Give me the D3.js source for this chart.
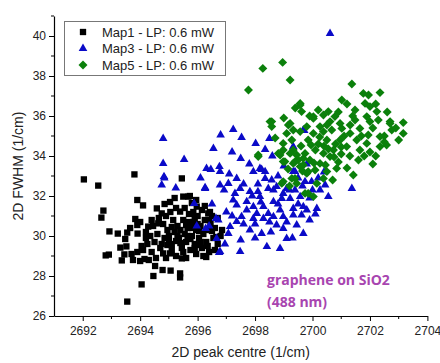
<!DOCTYPE html>
<html>
<head>
<meta charset="utf-8">
<script src="https://cdn.jsdelivr.net/npm/d3@7"></script>
<style>
  html, body { margin: 0; padding: 0; background: #fff; }
  svg { display: block; font-family: "Liberation Sans", Arial, sans-serif; }
</style>
</head>
<body>
<svg id="chart" width="440" height="363"></svg>
<script>
// series values: [peak centre, FWHM]
const map1 = [
  [2692.04,32.83],[2692.54,32.52],[2693.80,33.08],[2692.72,31.27],[2692.65,30.92],[2693.90,31.80],
  [2694.10,31.53],[2693.83,30.85],[2693.90,30.55],[2692.93,30.23],[2693.22,30.12],[2693.55,30.17],
  [2693.91,30.12],[2693.48,29.85],[2693.31,29.42],[2693.52,29.48],[2692.80,29.03],[2692.91,29.07],
  [2693.45,29.08],[2693.36,28.78],[2693.90,29.20],[2693.75,28.80],[2694.05,27.58],[2693.55,26.72],
  [2694.52,28.50],[2694.78,28.30],[2694.46,28.00],[2695.06,28.27],[2695.39,28.13],[2695.39,27.93],
  [2695.04,31.70],[2695.50,31.97],[2695.73,32.00],[2694.58,31.38],[2694.75,31.13],[2694.28,30.47],
  [2694.63,30.63],[2695.39,31.22],[2695.97,31.47],[2696.37,31.13],[2695.04,29.13],[2694.80,29.13],
  [2695.45,28.88],[2695.45,32.88],[2695.68,31.97],[2695.80,31.65],[2696.43,31.20],
  [2694.00,28.75],[2694.15,28.85],[2694.30,28.80],[2694.10,29.30],[2694.25,29.60],[2694.40,29.20],
  [2694.50,29.70],[2694.35,30.00],[2694.60,30.10],[2694.70,29.40],[2694.85,29.90],[2694.95,30.30],
  [2694.80,30.60],[2695.00,30.00],[2695.10,29.60],[2695.20,30.20],[2695.15,30.80],[2695.30,30.50],
  [2695.35,29.90],[2695.45,29.40],[2695.50,30.80],[2695.55,30.10],[2695.60,29.70],[2695.65,30.40],
  [2695.70,31.10],[2695.75,29.30],[2695.80,30.00],[2695.85,30.70],[2695.90,29.60],[2695.95,30.30],
  [2696.00,31.00],[2696.05,29.90],[2696.10,30.50],[2696.15,29.40],[2696.20,30.10],[2696.25,30.80],
  [2696.30,29.70],[2696.35,30.30],[2696.40,29.20],[2696.45,30.60],[2696.55,29.90],[2696.60,30.40],
  [2696.70,29.60],[2696.80,30.00],[2696.85,30.30],[2695.05,31.20],[2695.25,31.40],[2695.55,31.40],
  [2695.85,31.20],[2696.15,31.30],[2694.90,28.90],[2695.25,29.00],[2695.60,28.90],[2695.95,29.10],
  [2696.30,28.95],[2694.45,30.50],[2694.20,30.20],[2694.65,30.90],[2694.90,31.00],[2695.40,30.30],
  [2695.70,30.70],[2696.00,30.60],[2696.50,31.00],[2695.10,29.30],[2694.75,29.60],[2695.50,29.20],
  [2695.90,29.40],[2696.20,29.00],[2696.60,29.30],[2694.55,28.90],[2693.70,29.10],[2694.05,29.50],
  [2693.65,30.40],[2694.00,30.70],[2694.20,29.90],[2694.40,30.80],[2695.00,29.80],[2695.80,30.40],
  [2696.10,29.70],[2696.40,30.80],[2695.30,30.00],[2695.65,30.00],[2696.70,30.90],[2696.25,31.50],
  [2695.95,31.80],[2695.20,31.90],[2694.85,31.60],
  [2695.40,29.65],[2695.75,29.85],[2696.05,30.25],[2695.90,30.90],[2695.60,30.55],[2695.25,29.75],
  [2696.35,29.50],[2696.50,30.25],[2695.10,30.45],[2694.95,29.55],[2696.65,29.95],[2696.00,29.55]
]

const map3 = [
  [2700.61,40.13],
  [2694.80,34.88],[2694.80,33.63],[2695.53,33.83],[2694.83,32.97],[2694.75,32.55],[2695.24,32.40],
  [2696.31,33.38],[2696.46,33.33],[2696.76,33.47],[2696.78,33.22],[2696.55,34.38],[2696.80,35.05],
  [2697.24,35.33],[2697.53,34.93],[2697.50,33.88],[2697.36,32.88],[2698.02,34.63],[2698.50,34.88],
  [2698.35,34.33],[2697.94,33.22],[2698.23,33.33],[2698.35,33.22],[2699.33,34.47],[2699.71,35.27],
  [2699.33,33.22],[2699.68,35.30],[2698.17,33.38],[2698.58,32.80],[2699.39,33.22],[2699.74,32.72],
  [2699.97,32.72],[2700.44,32.55],[2700.26,32.30],[2701.37,32.38],[2697.82,32.22],[2698.10,32.22],
  [2698.64,32.30],[2698.98,32.13],[2699.20,32.30],[2700.55,31.97],[2700.15,31.38],
  [2696.26,32.42],[2696.78,32.55],[2696.92,32.30],[2697.07,32.63],[2697.30,32.13],[2697.48,32.38],
  [2698.35,32.88],[2698.75,32.47],[2698.46,32.38],[2699.10,32.38],[2699.39,32.30],[2699.65,32.50],
  [2700.00,32.30],[2697.24,31.80],[2697.36,31.55],[2697.71,31.72],[2698.17,31.97],[2697.94,31.47],
  [2698.29,31.47],[2698.64,31.72],[2698.93,31.88],[2699.22,31.88],[2699.57,31.97],[2699.90,31.90],
  [2699.68,31.47],[2699.33,31.38],[2698.87,31.30],[2698.46,31.13],[2698.06,31.13],[2697.71,31.30],
  [2697.53,30.97],[2697.94,30.88],[2698.29,30.88],[2698.64,30.97],[2698.98,30.97],[2699.33,31.05],
  [2699.62,31.05],[2698.75,30.55],[2698.98,30.38],[2699.45,30.55],[2699.68,30.13],[2699.10,29.88],
  [2698.41,29.47],[2698.87,29.38],[2697.82,30.30],[2698.23,30.13],[2697.36,30.72],[2697.13,30.47],
  [2697.07,30.13],[2696.72,30.80],[2696.40,30.50],[2696.78,29.22],[2697.48,29.22],[2695.88,31.63],
  [2695.97,30.50],[2696.28,30.38],[2696.64,30.88],[2696.66,29.88],[2696.75,29.18],[2696.26,32.38],
  [2694.84,32.90],
  [2697.00,31.20],[2697.20,31.00],[2697.60,30.60],[2698.00,30.60],[2698.50,30.70],[2699.10,30.70],
  [2699.90,30.80],[2700.10,31.10],[2699.80,31.30],[2699.50,31.60],[2698.80,31.60],[2698.20,31.70],
  [2697.90,32.00],[2697.60,32.60],[2698.10,32.60],[2698.80,33.00],[2699.00,33.50],[2697.10,33.10],
  [2697.80,33.60],[2698.60,34.00],[2699.50,32.90],[2700.20,32.90],[2698.00,29.90],[2698.55,30.20],
  [2699.30,29.90],[2697.50,29.80],[2696.95,29.60],[2696.50,31.60],[2696.10,32.90],[2697.20,34.20],
  [2699.80,33.60],[2700.40,33.20]
]

const map5 = [
  [2698.27,38.38],[2698.96,38.68],[2699.22,37.80],[2697.77,37.30],[2701.37,37.60],[2701.02,36.80],
  [2701.77,37.13],[2701.95,37.05],[2702.35,37.17],[2701.83,36.63],[2702.00,36.47],[2701.48,36.30],
  [2702.24,36.22],[2701.89,35.97],[2702.29,35.80],[2702.70,35.72],[2703.16,35.67],[2703.16,35.13],
  [2702.76,35.30],[2699.57,36.63],[2699.62,36.22],[2700.03,35.88],[2700.38,36.05],[2700.55,36.22],
  [2700.78,35.97],[2700.61,35.72],[2700.96,35.63],[2701.31,35.55],[2701.48,35.80],[2701.65,35.38],
  [2701.31,35.13],[2701.94,35.05],[2702.35,34.97],[2698.58,35.72],[2698.58,35.47],[2699.22,35.63],
  [2699.33,35.30],[2699.57,35.22],[2700.26,35.47],[2700.38,35.22],[2700.67,35.30],[2701.02,35.38],
  [2699.80,35.47],[2700.50,35.55],[2702.00,35.72],[2702.70,35.63],[2702.35,34.47],[2702.58,34.55],
  [2701.89,34.63],[2701.54,34.80],[2701.65,34.30],[2701.19,34.47],[2700.96,34.80],[2700.73,34.30],
  [2700.38,34.13],[2700.61,33.97],[2700.26,33.63],[2700.09,33.30],[2699.91,33.80],[2699.74,34.13],
  [2699.50,33.80],[2699.33,34.30],[2698.98,34.30],[2698.87,34.05],[2698.98,33.72],[2699.33,33.63],
  [2699.68,33.55],[2699.80,33.13],[2700.38,32.88],[2700.50,33.22],[2700.84,33.38],[2701.42,33.05],
  [2698.11,34.05],[2698.93,32.63],[2699.74,32.13],[2700.03,31.97],[2699.28,32.88],[2699.45,32.63],
  [2700.15,32.63],[2698.98,32.72],[2699.20,32.50],[2699.39,32.88],[2699.85,32.13],[2699.57,36.55],
  [2700.03,35.97],[2698.52,35.72],[2699.16,35.55],[2699.10,35.13],[2699.28,34.80],[2698.98,34.63],
  [2698.81,34.13],[2699.22,34.13],[2698.11,33.97],[2699.04,33.72],[2699.39,33.72],[2699.68,33.88],
  [2699.57,33.47],[2699.85,33.22],[2699.85,34.80],[2700.03,35.13],
  [2700.20,34.60],[2700.50,34.80],[2700.80,34.60],[2701.00,34.10],[2701.30,34.00],[2701.60,33.80],
  [2702.00,34.20],[2702.20,34.00],[2701.80,34.00],[2700.90,33.70],[2700.40,34.50],[2700.10,34.30],
  [2701.10,35.00],[2701.70,35.00],[2702.10,35.40],[2702.50,35.00],[2702.90,35.40],[2703.00,34.80],
  [2701.40,36.00],[2700.90,36.20],[2700.20,36.30],[2699.90,36.00],[2699.40,36.40],[2702.20,36.60],
  [2702.60,36.20],[2701.20,36.60],[2702.10,33.60],[2701.20,33.40],[2702.50,34.70],[2700.70,32.80],
  [2699.60,34.50],[2699.00,35.90],[2698.70,34.90],
  [2699.95,34.55],[2700.25,34.95],[2700.55,34.35],[2699.45,34.05],[2699.65,33.25],[2700.05,33.65],
  [2700.45,33.55],[2699.15,33.35],[2700.75,33.95],[2701.00,34.45]
]

const xTicks = [2692, 2694, 2696, 2698, 2700, 2702, 2704]
const yTicks = [26, 28, 30, 32, 34, 36, 38, 40]
const seriesNames = ['Map1 - LP: 0.6 mW', 'Map3 - LP: 0.6 mW', 'Map5 - LP: 0.6 mW']

const svg = d3.select('#chart')

const x = d3.scaleLinear().domain([2691, 2704]).range([54, 427.4])
const y = d3.scaleLinear().domain([26, 41]).range([316, 16])

// square rotated by 45 degrees, as Origin draws its diamonds
const squareDiamond = {
  draw(context, size) {
    const r = Math.sqrt(size / 2)
    context.moveTo(0, -r)
    context.lineTo(r, 0)
    context.lineTo(0, r)
    context.lineTo(-r, 0)
    context.closePath()
  }
}

const series = [
  { name: seriesNames[0], data: map1, color: '#000000', symbol: d3.symbolSquare, size: 40 },
  { name: seriesNames[1], data: map3, color: '#0a0ac8', symbol: d3.symbolTriangle, size: 32 },
  { name: seriesNames[2], data: map5, color: '#0b800b', symbol: squareDiamond, size: 40 }
]

// points
series.forEach(s => {
  const sym = d3.symbol().type(s.symbol).size(s.size)
  svg.append('g')
    .selectAll('path')
    .data(s.data)
    .enter()
    .append('path')
    .attr('transform', d => `translate(${x(d[0])},${y(d[1])})`)
    .attr('d', sym)
    .attr('fill', s.color)
})

// axes, ticks pointing outwards, minor ticks at odd values
const xAxis = svg.append('g').attr('transform', `translate(0,${y(26)})`)
xAxis.call(d3.axisBottom(x).tickValues(xTicks).tickFormat(d3.format('d')).tickSize(5).tickSizeOuter(0))
xAxis.append('g')
  .selectAll('line')
  .data(d3.range(2693, 2704, 2))
  .enter()
  .append('line')
  .attr('x1', d => x(d)).attr('x2', d => x(d))
  .attr('y1', 0).attr('y2', 3)
  .attr('stroke', '#000')

const yAxis = svg.append('g').attr('transform', `translate(${x(2691)},0)`)
yAxis.call(d3.axisLeft(y).tickValues(yTicks).tickSize(5).tickSizeOuter(0))
yAxis.append('g')
  .selectAll('line')
  .data(d3.range(27, 42, 2))
  .enter()
  .append('line')
  .attr('y1', d => y(d)).attr('y2', d => y(d))
  .attr('x1', 0).attr('x2', -3)
  .attr('stroke', '#000')

svg.selectAll('.domain').attr('stroke', '#000').attr('stroke-width', 1.2)
svg.selectAll('.tick line').attr('stroke', '#000')
svg.selectAll('.tick text')
  .attr('font-size', 12)
  .attr('font-family', '"Liberation Sans", Arial, sans-serif')
  .attr('fill', '#222')
xAxis.selectAll('.tick text').attr('dy', '0.9em')
yAxis.selectAll('.tick text').attr('x', -8)

// axis titles
svg.append('text')
  .attr('x', (x(2691) + x(2704)) / 2)
  .attr('y', 357)
  .attr('text-anchor', 'middle')
  .attr('font-size', 14)
  .attr('fill', '#222')
  .text('2D peak centre (1/cm)')

svg.append('text')
  .attr('transform', `translate(23,${(y(26) + y(41)) / 2}) rotate(-90)`)
  .attr('text-anchor', 'middle')
  .attr('font-size', 14)
  .attr('fill', '#222')
  .text('2D FWHM (1/cm)')

// legend
const legend = svg.append('g')
legend.append('rect')
  .attr('x', 64.5).attr('y', 21.5)
  .attr('width', 161).attr('height', 54)
  .attr('fill', '#fff')
  .attr('stroke', '#777')
  .attr('stroke-width', 1)

series.forEach((s, i) => {
  const row = legend.append('g').attr('transform', `translate(0,${32 + i * 16.5})`)
  row.append('path')
    .attr('transform', 'translate(83,0)')
    .attr('d', d3.symbol().type(s.symbol).size(s.size)())
    .attr('fill', s.color)
  row.append('text')
    .attr('x', 102)
    .attr('y', 0)
    .attr('dy', '0.35em')
    .attr('font-size', 13)
    .attr('fill', '#222')
    .text(s.name)
})

// annotation
const note = svg.append('text')
  .attr('font-family', '"Open Sans", "Noto Sans", sans-serif')
  .attr('font-weight', 'bold')
  .attr('font-size', 14)
  .attr('fill', '#a845b0')
note.append('tspan').attr('x', 267).attr('y', 285).text('graphene on SiO2')
note.append('tspan').attr('x', 267).attr('y', 307).text('(488 nm)')
</script>
</body>
</html>
